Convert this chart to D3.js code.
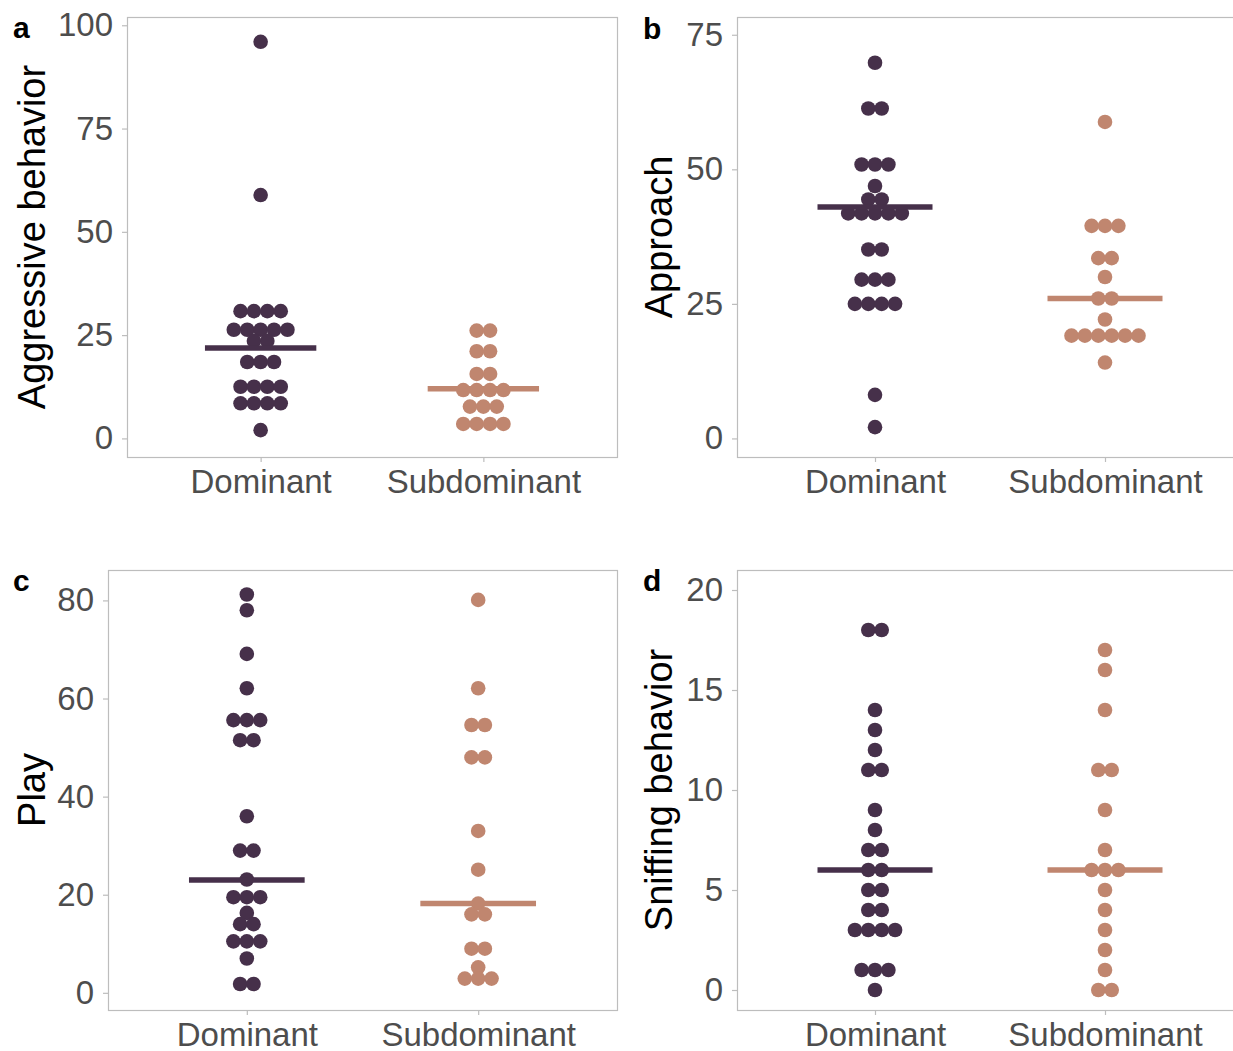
<!DOCTYPE html>
<html>
<head>
<meta charset="utf-8">
<script src="https://cdn.jsdelivr.net/npm/d3@7"></script>
<style>
  body { margin: 0; background: #fff; }
  text { font-family: "Liberation Sans", Arial, sans-serif; }
</style>
</head>
<body>
<div id="container"></div>
<script>
/* DATA */
const groups = ["Dominant", "Subdominant"]

// a - aggressive behavior
const aggressiveDom = [96, 58.9, 30.8, 30.8, 30.8, 30.8, 26.3, 26.3, 26.3, 26.3, 26.3, 23.6, 23.6,
  18.5, 18.5, 18.5, 12.5, 12.5, 12.5, 12.5, 8.5, 8.5, 8.5, 8.5, 2]
const aggressiveSub = [26.1, 26.1, 21.1, 21.1, 15.6, 15.6, 11.7, 11.7, 11.7, 11.7, 7.7, 7.7, 7.7,
  3.5, 3.5, 3.5, 3.5]
const aggressiveMid = [21.9, 12.0]
const aggressiveTicks = [0, 25, 50, 75, 100]

// b - approach
const approachDom = [69.8, 61.3, 61.3, 50.9, 50.9, 50.9, 46.9, 44.4, 44.4, 41.8, 41.8, 41.8, 41.8, 41.8,
  35.1, 35.1, 29.5, 29.5, 29.5, 25, 25, 25, 25, 8.1, 2.1]
const approachSub = [58.8, 39.5, 39.5, 39.5, 33.5, 33.5, 30, 26, 26, 22.1,
  19.1, 19.1, 19.1, 19.1, 19.1, 19.1, 14.1]
const approachMid = [43.0, 26.0]
const approachTicks = [0, 25, 50, 75]

// c - play
const playDom = [81.2, 78, 69.1, 62.1, 55.6, 55.6, 55.6, 51.5, 51.5, 36, 29, 29, 23.1,
  19.5, 19.5, 19.5, 16.3, 14, 14, 10.5, 10.5, 10.5, 7, 1.8, 1.8]
const playSub = [80.1, 62.1, 54.6, 54.6, 48, 48, 33, 25.1, 18.2, 16, 16, 9, 9, 5.2, 2.9, 2.9, 2.9]
const playMid = [23.0, 18.2]
const playTicks = [0, 20, 40, 60, 80]

// d - sniffing behavior
const sniffDom = [18, 18, 14, 13, 12, 11, 11, 9, 8, 7, 7, 6, 6, 5, 5, 4, 4, 3, 3, 3, 3, 1, 1, 1, 0]
const sniffSub = [17, 16, 14, 11, 11, 9, 7, 6, 6, 6, 5, 4, 3, 2, 1, 0, 0]
const sniffMid = [6, 6]
const sniffTicks = [0, 5, 10, 15, 20]

const colors = ["#46304a", "#c0866f"]

/* LAYOUT */
const width = 1233, height = 1051
const dotR = 7.3, dotStep = 13.4

const panels = [
  { letter: "a", title: "Aggressive behavior", values: [aggressiveDom, aggressiveSub], mid: aggressiveMid,
    ticks: aggressiveTicks, domain: [-4.5, 102], x0: 127, x1: 617, y0: 17, y1: 457, lx: 13, ly: 38, tx: 45 },
  { letter: "b", title: "Approach", values: [approachDom, approachSub], mid: approachMid,
    ticks: approachTicks, domain: [-3.45, 78.3], x0: 737, x1: 1243, y0: 17, y1: 457, lx: 643, ly: 39, tx: 672 },
  { letter: "c", title: "Play", values: [playDom, playSub], mid: playMid,
    ticks: playTicks, domain: [-3.5, 86.2], x0: 108, x1: 617, y0: 570, y1: 1010, lx: 13, ly: 591, tx: 45 },
  { letter: "d", title: "Sniffing behavior", values: [sniffDom, sniffSub], mid: sniffMid,
    ticks: sniffTicks, domain: [-1, 21], x0: 737, x1: 1243, y0: 570, y1: 1010, lx: 643, ly: 591, tx: 672 }
]

const svg = d3.select("#container")
  .append("svg")
  .attr("width", width)
  .attr("height", height)
  .style("background", "#fff")

panels.forEach(p => {
  const g = svg.append("g")

  const xScale = d3.scalePoint()
    .domain(groups)
    .range([p.x0, p.x1])
    .padding(0.6)

  const yScale = d3.scaleLinear()
    .domain(p.domain)
    .range([p.y1, p.y0])

  // panel border
  g.append("rect")
    .attr("x", p.x0 + 0.5)
    .attr("y", p.y0 + 0.5)
    .attr("width", p.x1 - p.x0)
    .attr("height", p.y1 - p.y0)
    .attr("fill", "none")
    .attr("stroke", "#bdbdbd")
    .attr("stroke-width", 1.2)

  // axes
  const yAxisGroup = g.append("g")
    .attr("transform", `translate(${p.x0}, 0)`)
    .call(d3.axisLeft(yScale).tickValues(p.ticks).tickSize(5).tickPadding(9))
  const xAxisGroup = g.append("g")
    .attr("transform", `translate(0, ${p.y1})`)
    .call(d3.axisBottom(xScale).tickSize(5).tickPadding(8))

  ;[yAxisGroup, xAxisGroup].forEach(ax => {
    ax.select(".domain").remove()
    ax.selectAll(".tick line").attr("stroke", "#bdbdbd").attr("stroke-width", 1.2)
    ax.selectAll(".tick text")
      .attr("fill", "#4d4d4d")
      .style("font-size", "33px")
      .style("font-family", '"Liberation Sans", Arial, sans-serif')
  })

  // dots, stacked centred on identical values
  groups.forEach((grp, gi) => {
    const rows = d3.groups(p.values[gi], d => d)
    const dots = []
    rows.forEach(([v, arr]) => {
      arr.forEach((_, i) => dots.push({ v, off: (i - (arr.length - 1) / 2) * dotStep }))
    })
    g.selectAll(null)
      .data(dots)
      .join("circle")
      .attr("cx", d => xScale(grp) + d.off)
      .attr("cy", d => yScale(d.v))
      .attr("r", dotR)
      .attr("fill", colors[gi])
  })

  // centre lines
  const halfW = xScale.step() * 0.25
  g.selectAll(null)
    .data(groups)
    .join("line")
    .attr("x1", d => xScale(d) - halfW)
    .attr("x2", d => xScale(d) + halfW)
    .attr("y1", (d, i) => yScale(p.mid[i]))
    .attr("y2", (d, i) => yScale(p.mid[i]))
    .attr("stroke", (d, i) => colors[i])
    .attr("stroke-width", 5.5)

  // y title
  g.append("text")
    .attr("transform", `translate(${p.tx}, ${(p.y0 + p.y1) / 2}) rotate(-90)`)
    .attr("text-anchor", "middle")
    .attr("fill", "#000")
    .style("font-size", "38px")
    .text(p.title)

  // panel letter
  g.append("text")
    .attr("x", p.lx)
    .attr("y", p.ly)
    .attr("fill", "#000")
    .style("font-size", "30px")
    .style("font-weight", "bold")
    .text(p.letter)
})
</script>
</body>
</html>
